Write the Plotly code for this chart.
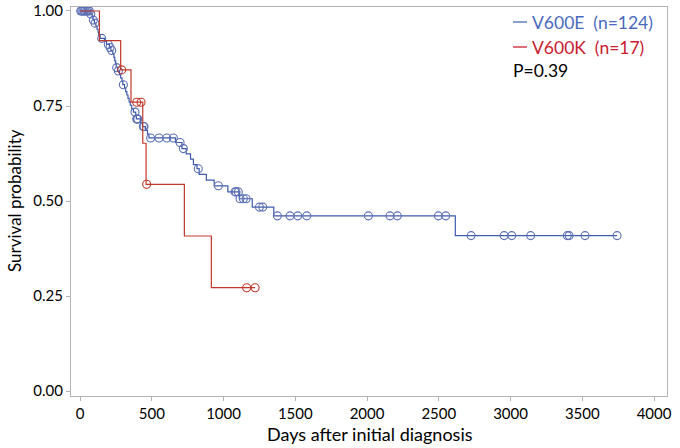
import plotly.graph_objects as go

# V600E (n=124) Kaplan-Meier step function
e_times = [0, 70, 85, 90, 100, 110, 118, 125, 130, 140, 170, 185, 205, 215, 228, 236, 242, 248, 252, 262,
           275, 283, 292, 298, 310, 318, 326, 334, 342, 350, 360, 372, 388, 392, 420, 435, 455, 470, 480,
           665, 710, 740, 770, 790, 815, 830, 880, 935, 1030, 1110, 1200, 1350, 2615, 3742]
e_surv = [1.0, 0.992, 0.984, 0.976, 0.968, 0.960, 0.952, 0.944, 0.936, 0.928, 0.920, 0.912, 0.904, 0.896,
          0.887, 0.878, 0.869, 0.860, 0.851, 0.842, 0.833, 0.824, 0.815, 0.806, 0.797, 0.788, 0.779, 0.770,
          0.761, 0.752, 0.743, 0.734, 0.725, 0.716, 0.706, 0.696, 0.686, 0.676, 0.666, 0.654, 0.638, 0.624,
          0.610, 0.596, 0.585, 0.570, 0.555, 0.540, 0.524, 0.506, 0.484, 0.461, 0.409, 0.409]
e_cens_t = [5, 12, 20, 28, 35, 45, 55, 65, 75, 93, 104, 151, 197, 209, 221, 255, 267, 302, 383, 395, 400,
            402, 441, 446, 492, 550, 604, 650, 697, 720, 824, 964, 1080, 1087, 1103, 1115, 1138, 1157,
            1250, 1273, 1375, 1463, 1517, 1580, 2009, 2160, 2211, 2497, 2548, 2725, 2955, 3008, 3140,
            3395, 3408, 3519, 3742]
e_cens_s = [1.0, 1.0, 1.0, 1.0, 1.0, 1.0, 1.0, 1.0, 0.992, 0.976, 0.968, 0.928, 0.912, 0.904, 0.896,
            0.851, 0.842, 0.806, 0.734, 0.716, 0.716, 0.716, 0.696, 0.696, 0.666, 0.666, 0.666, 0.666,
            0.654, 0.638, 0.585, 0.540, 0.524, 0.524, 0.524, 0.506, 0.506, 0.506, 0.484, 0.484, 0.461,
            0.461, 0.461, 0.461, 0.461, 0.461, 0.461, 0.461, 0.461, 0.409, 0.409, 0.409, 0.409, 0.409,
            0.409, 0.409, 0.409]

# V600K (n=17)
k_times = [0, 135, 283, 355, 437, 460, 727, 915, 1220]
k_surv = [1.0, 0.922, 0.845, 0.760, 0.652, 0.544, 0.408, 0.272, 0.272]
k_cens_t = [290, 395, 425, 464, 1161, 1220]
k_cens_s = [0.845, 0.760, 0.760, 0.544, 0.272, 0.272]

x_ticks = [0, 500, 1000, 1500, 2000, 2500, 3000, 3500, 4000]
y_ticks = [0.00, 0.25, 0.50, 0.75, 1.00]

legend_labels = ["V600E&nbsp;&nbsp;(n=124)", "V600K&nbsp;&nbsp;(n=17)"]
p_label = "P=0.39"
x_title = "Days after initial diagnosis"
y_title = "Survival probability"

BLUE = "#3f5bab"
BLUE_M = "#5b6fb5"
BLUE_T = "#4a6bbd"
RED = "#c0392b"
RED_T = "#c8202f"
FONT = "Lato, 'Open Sans', sans-serif"

W, H = 680, 448
PL, PR, PT, PB = 71, 667, 7, 396          # plot area in pixels

fig = go.Figure()
fig.add_trace(go.Scatter(x=e_times, y=e_surv, mode="lines", line=dict(shape="hv", color=BLUE, width=1.2),
                         hoverinfo="skip"))
fig.add_trace(go.Scatter(x=e_cens_t, y=e_cens_s, mode="markers",
                         marker=dict(symbol="circle-open", size=8, color=BLUE_M, line=dict(width=1.1))))
fig.add_trace(go.Scatter(x=k_times, y=k_surv, mode="lines", line=dict(shape="hv", color=RED, width=1.2),
                         hoverinfo="skip"))
fig.add_trace(go.Scatter(x=k_cens_t, y=k_cens_s, mode="markers",
                         marker=dict(symbol="circle-open", size=8, color=RED, line=dict(width=1.1))))

axis_common = dict(showline=True, linecolor="#b4b4b4", linewidth=1, mirror=True, showgrid=False,
                   zeroline=False, ticks="outside", ticklen=4, tickcolor="#b4b4b4", automargin=False,
                   ticklabeloverflow="allow", tickfont=dict(family=FONT, size=15, color="#000"))

fig.update_xaxes(range=[-63, 4090], tickvals=x_ticks, ticktext=[str(v) for v in x_ticks], **axis_common)
fig.update_yaxes(range=[-0.013, 1.0105], tickvals=y_ticks, ticktext=["%.2f" % v for v in y_ticks],
                 **axis_common)

def px_x(x):
    return (x - PL) / (PR - PL)
def px_y(y):
    return 1 - (y - PT) / (PB - PT)

# axis titles
fig.add_annotation(xref="paper", yref="paper", x=px_x(370), y=px_y(434), xanchor="center", yanchor="middle",
                   showarrow=False, text=x_title, font=dict(family=FONT, size=18, color="#000"))
fig.add_annotation(xref="paper", yref="paper", x=px_x(14), y=px_y(201), xanchor="center", yanchor="middle",
                   showarrow=False, textangle=-90, text=y_title, font=dict(family=FONT, size=17, color="#000"))

# legend block
rows = [(legend_labels[0], BLUE_T, 22), (legend_labels[1], RED_T, 47)]
for txt, col, ypx in rows:
    fig.add_shape(type="line", xref="paper", yref="paper", x0=px_x(513), x1=px_x(527),
                  y0=px_y(ypx), y1=px_y(ypx), line=dict(color=col, width=1.3))
    fig.add_annotation(xref="paper", yref="paper", x=px_x(530), y=px_y(ypx), xanchor="left",
                       yanchor="middle", showarrow=False, text=txt,
                       font=dict(family=FONT, size=17.5, color=col))
fig.add_annotation(xref="paper", yref="paper", x=px_x(511), y=px_y(71), xanchor="left", yanchor="middle",
                   showarrow=False, text=p_label, font=dict(family=FONT, size=17.5, color="#000"))

fig.update_layout(width=W, height=H, margin=dict(l=PL, r=W - PR, t=PT, b=H - PB),
                  plot_bgcolor="white", paper_bgcolor="white", showlegend=False, hovermode=False)

fig.write_html("out.html", config={"displayModeBar": False},
               post_script="document.body.style.margin='0px';document.body.style.overflow='hidden';")
